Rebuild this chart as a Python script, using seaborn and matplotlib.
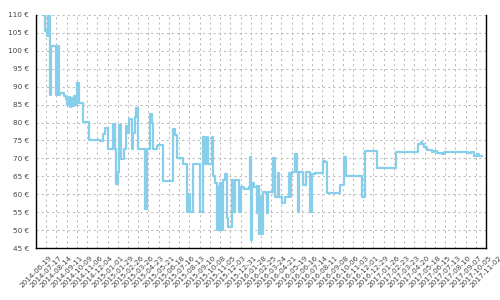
import matplotlib
matplotlib.use("Agg")
import matplotlib.pyplot as plt
import seaborn as sns
import pandas as pd

start_date = "2014-06-19"
end_date = "2017-11-02"

# days after start_date at which the price changed
day_offsets = [18, 26, 30, 33, 38, 41, 55, 59, 62, 64, 67, 77, 82, 85, 89, 93, 96, 100, 104, 108,
               112, 118, 128, 144, 175, 184, 189, 198, 210, 216, 219, 225, 228, 233, 241, 246, 253,
               255, 262, 266, 271, 274, 278, 298, 305, 312, 317, 320, 330, 335, 349, 374, 380, 385,
               403, 413, 417, 422, 429, 449, 456, 458, 464, 467, 472, 481, 485, 490, 495, 498, 501,
               504, 507, 511, 513, 517, 522, 527, 536, 539, 545, 556, 561, 569, 584, 586, 589, 591,
               597, 604, 606, 610, 611, 616, 618, 622, 630, 632, 635, 650, 654, 662, 666, 673, 682,
               694, 695, 697, 700, 709, 714, 718, 721, 732, 739, 750, 755, 764, 770, 787, 791, 796,
               832, 844, 849, 892, 901, 933, 986, 1047, 1053, 1058, 1062, 1070, 1083, 1090, 1097,
               1111, 1117, 1184, 1190, 1200, 1207, 1213, 1220]
prices = [110, 105.5, 104.2, 110, 87.7, 101.4, 87.7, 101.4, 98.4, 87.7, 88.2, 87.5, 86.5, 84.8, 87,
          84.2, 86.8, 84.5, 87.3, 85, 91, 85.4, 80.1, 75.2, 74.9, 76.8, 78.4, 72.5, 79.5, 72.5, 62.8,
          66.3, 79.2, 69.8, 72.5, 79, 77.1, 80.9, 72.5, 77.1, 81.6, 84.1, 72.5, 55.9, 72.5, 82.3,
          79.8, 72.5, 73.5, 73.8, 63.8, 78.3, 76.5, 70, 68.3, 55, 60, 55, 68.3, 55, 68.3, 75.9, 68.3,
          75.9, 68.3, 75.9, 65.1, 63.2, 50, 62, 50, 63, 50, 57, 64, 65.6, 53.3, 50.8, 64, 55, 64, 55,
          61.9, 61.5, 61.9, 70.3, 47.2, 63, 61.9, 62.4, 54.9, 62.4, 48.8, 59.3, 48.8, 60.7, 60.2,
          54.9, 60.7, 70, 59.3, 65.8, 59.3, 57.5, 59.3, 65.8, 59.3, 65.8, 66.1, 71.2, 66.1, 55, 66.1,
          62.6, 66.1, 55, 65.7, 66, 65.8, 69.3, 68.9, 60.3, 62.6, 70.5, 65.2, 59.3, 72.1, 67.4, 71.8,
          73.9, 74.7, 73.9, 73.1, 72.4, 71.8, 72, 71.6, 71.3, 71.8, 71.4, 71.8, 70.8, 71.3, 70.8, 70.8]

y_ticks = list(range(45, 111, 5))
tick_dates = pd.date_range(start_date, end_date, freq="28D")

df = pd.DataFrame({
    "date": pd.Timestamp(start_date) + pd.to_timedelta(day_offsets, unit="D"),
    "price": prices,
})

sns.set_style("white")
fig = plt.figure(figsize=(5, 3), dpi=100)
ax = fig.add_axes([0.072, 0.1733, 0.9, 0.7767])

sns.lineplot(data=df, x="date", y="price", drawstyle="steps-post", estimator=None,
             color="#87CEEB", linewidth=1.6, ax=ax)

ax.set_xlim(tick_dates[0], tick_dates[-1])
ax.set_ylim(45, 110)
ax.set_xticks(tick_dates)
ax.set_xticklabels([d.strftime("%Y-%m-%d") for d in tick_dates], rotation=45, ha="center")
ax.set_yticks(y_ticks)
ax.set_yticklabels([f"{v} €" for v in y_ticks])
ax.set_xlabel("")
ax.set_ylabel("")

ax.grid(True, color="#bbbbbb", linestyle=(0, (2, 3)), linewidth=0.75)
ax.set_axisbelow(True)
ax.spines["top"].set_visible(False)
for s in ("left", "right", "bottom"):
    ax.spines[s].set_color("black")
    ax.spines[s].set_linewidth(1)
ax.tick_params(direction="inout", length=6, width=1, color="black",
               labelcolor="#444444", labelsize=5.2, pad=2)

fig.savefig("out.png", dpi=100)
